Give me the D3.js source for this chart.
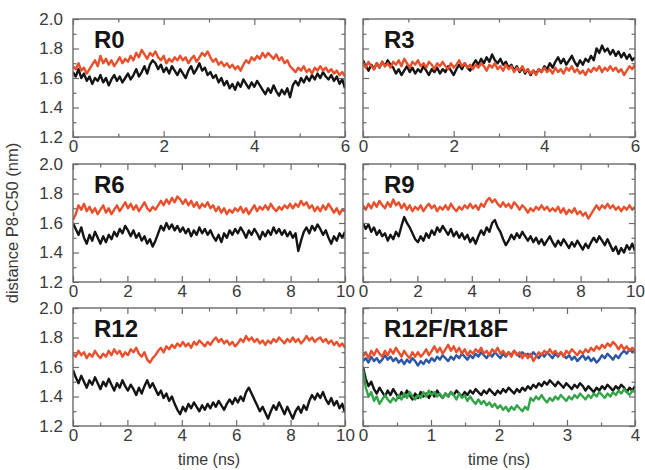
<!DOCTYPE html>
<html lang="en">
<head>
<meta charset="UTF-8">
<title>distance P8-C50</title>
<script src="https://d3js.org/d3.v7.min.js"></script>
<style>
  body { margin: 0; background: #fff; }
  text { font-family: "Liberation Sans", Arial, Helvetica, sans-serif; }
</style>
</head>
<body>
<script>

const r0Red = [1.68,1.66,1.70,1.65,1.67,1.63,1.66,1.69,1.72,1.68,
  1.75,1.70,1.73,1.69,1.72,1.68,1.71,1.74,1.70,1.73,
  1.71,1.75,1.72,1.77,1.74,1.79,1.76,1.73,1.77,1.75,
  1.78,1.74,1.72,1.75,1.70,1.73,1.71,1.74,1.72,1.75,
  1.72,1.74,1.70,1.73,1.75,1.71,1.74,1.77,1.75,1.78,
  1.74,1.71,1.73,1.69,1.71,1.68,1.70,1.67,1.69,1.66,
  1.68,1.65,1.69,1.72,1.70,1.74,1.72,1.75,1.73,1.77,
  1.74,1.77,1.75,1.73,1.76,1.72,1.74,1.70,1.72,1.68,
  1.66,1.64,1.67,1.65,1.68,1.64,1.66,1.63,1.67,1.65,
  1.68,1.65,1.67,1.64,1.66,1.63,1.65,1.62,1.64,1.61];
const r0Black = [1.64,1.61,1.66,1.60,1.63,1.58,1.61,1.56,1.60,1.58,
  1.62,1.57,1.60,1.55,1.59,1.62,1.58,1.61,1.57,1.60,
  1.63,1.59,1.62,1.66,1.61,1.64,1.68,1.63,1.69,1.72,
  1.70,1.66,1.69,1.64,1.67,1.63,1.68,1.65,1.62,1.66,
  1.63,1.60,1.65,1.68,1.63,1.66,1.70,1.65,1.67,1.62,
  1.64,1.60,1.62,1.57,1.60,1.55,1.58,1.53,1.56,1.52,
  1.57,1.54,1.59,1.56,1.53,1.57,1.54,1.58,1.55,1.52,
  1.49,1.53,1.50,1.55,1.51,1.48,1.52,1.49,1.53,1.47,
  1.55,1.58,1.55,1.60,1.57,1.61,1.58,1.62,1.59,1.63,
  1.60,1.64,1.61,1.59,1.62,1.58,1.61,1.56,1.59,1.53];

const r3Red = [1.70,1.67,1.71,1.68,1.66,1.70,1.67,1.71,1.68,1.70,
  1.67,1.71,1.69,1.72,1.68,1.73,1.70,1.67,1.71,1.69,
  1.72,1.68,1.70,1.67,1.71,1.69,1.66,1.70,1.68,1.71,
  1.68,1.66,1.70,1.67,1.69,1.72,1.68,1.70,1.67,1.69,
  1.66,1.69,1.67,1.70,1.68,1.65,1.69,1.67,1.70,1.66,
  1.68,1.65,1.69,1.66,1.68,1.64,1.67,1.65,1.68,1.64,
  1.66,1.63,1.65,1.62,1.66,1.64,1.67,1.64,1.66,1.63,
  1.67,1.64,1.66,1.63,1.67,1.65,1.68,1.64,1.66,1.63,
  1.65,1.62,1.66,1.64,1.67,1.65,1.68,1.64,1.67,1.65,
  1.68,1.65,1.67,1.64,1.66,1.62,1.65,1.68,1.66,1.69];
const r3Black = [1.72,1.68,1.65,1.69,1.66,1.70,1.67,1.71,1.68,1.72,
  1.69,1.67,1.63,1.66,1.62,1.65,1.68,1.64,1.67,1.63,
  1.66,1.64,1.68,1.65,1.62,1.66,1.64,1.67,1.63,1.66,
  1.64,1.68,1.65,1.62,1.66,1.69,1.66,1.70,1.67,1.65,
  1.69,1.72,1.69,1.73,1.70,1.74,1.71,1.76,1.72,1.70,
  1.73,1.69,1.71,1.67,1.69,1.65,1.68,1.64,1.67,1.63,
  1.66,1.62,1.65,1.63,1.66,1.64,1.68,1.66,1.70,1.67,
  1.71,1.74,1.70,1.73,1.69,1.72,1.75,1.71,1.68,1.72,
  1.69,1.73,1.71,1.75,1.72,1.80,1.77,1.82,1.78,1.80,
  1.76,1.79,1.75,1.78,1.74,1.77,1.73,1.76,1.72,1.74];

const r6Red = [1.62,1.66,1.72,1.69,1.73,1.68,1.71,1.67,1.70,1.66,
  1.69,1.72,1.67,1.70,1.66,1.69,1.72,1.68,1.71,1.74,
  1.70,1.73,1.69,1.72,1.68,1.71,1.74,1.70,1.68,1.71,
  1.69,1.72,1.75,1.72,1.76,1.73,1.77,1.74,1.78,1.76,
  1.73,1.76,1.72,1.75,1.71,1.74,1.70,1.73,1.71,1.74,
  1.70,1.72,1.68,1.71,1.67,1.70,1.66,1.69,1.67,1.70,
  1.68,1.71,1.67,1.70,1.66,1.69,1.72,1.68,1.71,1.69,
  1.72,1.69,1.73,1.70,1.68,1.71,1.69,1.72,1.70,1.73,
  1.70,1.73,1.71,1.75,1.72,1.74,1.70,1.72,1.68,1.71,
  1.68,1.72,1.69,1.73,1.70,1.67,1.70,1.66,1.69,1.68];
const r6Black = [1.60,1.56,1.52,1.57,1.50,1.46,1.52,1.48,1.54,1.50,
  1.46,1.51,1.47,1.52,1.49,1.54,1.51,1.56,1.53,1.58,
  1.55,1.51,1.55,1.50,1.53,1.48,1.51,1.46,1.49,1.44,
  1.48,1.53,1.58,1.55,1.60,1.56,1.59,1.55,1.58,1.54,
  1.57,1.53,1.56,1.51,1.55,1.52,1.57,1.53,1.56,1.52,
  1.55,1.51,1.48,1.52,1.47,1.53,1.50,1.55,1.52,1.56,
  1.53,1.57,1.54,1.50,1.55,1.52,1.56,1.53,1.49,1.54,
  1.51,1.55,1.52,1.57,1.53,1.56,1.52,1.55,1.51,1.54,
  1.50,1.53,1.41,1.48,1.54,1.57,1.53,1.58,1.55,1.59,
  1.56,1.52,1.55,1.50,1.46,1.51,1.48,1.53,1.50,1.54];

const r9Red = [1.72,1.69,1.73,1.70,1.74,1.71,1.75,1.72,1.70,1.74,
  1.71,1.76,1.72,1.74,1.70,1.73,1.69,1.72,1.68,1.71,
  1.69,1.72,1.68,1.71,1.73,1.70,1.72,1.68,1.71,1.69,
  1.72,1.69,1.73,1.70,1.68,1.71,1.69,1.72,1.70,1.73,
  1.70,1.72,1.69,1.73,1.71,1.75,1.77,1.74,1.76,1.73,
  1.71,1.74,1.71,1.73,1.70,1.74,1.72,1.69,1.72,1.70,
  1.67,1.70,1.68,1.71,1.69,1.72,1.69,1.71,1.68,1.70,
  1.68,1.71,1.67,1.70,1.66,1.69,1.67,1.70,1.66,1.68,
  1.65,1.67,1.63,1.66,1.69,1.72,1.69,1.72,1.70,1.73,
  1.70,1.72,1.69,1.71,1.68,1.71,1.69,1.72,1.69,1.71];
const r9Black = [1.60,1.56,1.59,1.54,1.57,1.52,1.55,1.51,1.53,1.48,
  1.52,1.49,1.54,1.51,1.58,1.64,1.60,1.57,1.53,1.49,
  1.47,1.51,1.48,1.53,1.50,1.55,1.52,1.57,1.54,1.58,
  1.55,1.52,1.56,1.51,1.54,1.50,1.53,1.49,1.52,1.47,
  1.50,1.46,1.51,1.55,1.52,1.57,1.54,1.60,1.62,1.57,
  1.54,1.49,1.45,1.48,1.52,1.49,1.53,1.50,1.54,1.51,
  1.48,1.51,1.47,1.50,1.46,1.49,1.45,1.48,1.51,1.47,
  1.44,1.48,1.45,1.49,1.46,1.43,1.47,1.44,1.48,1.45,
  1.42,1.46,1.43,1.47,1.50,1.47,1.51,1.48,1.45,1.49,
  1.45,1.41,1.44,1.39,1.43,1.40,1.45,1.42,1.46,1.41];

const r12Red = [1.69,1.67,1.71,1.68,1.70,1.66,1.69,1.67,1.71,1.68,
  1.66,1.69,1.67,1.71,1.68,1.72,1.69,1.71,1.67,1.70,
  1.68,1.72,1.70,1.73,1.69,1.67,1.70,1.65,1.63,1.66,
  1.68,1.71,1.73,1.70,1.74,1.72,1.75,1.73,1.76,1.74,
  1.77,1.74,1.76,1.73,1.77,1.75,1.78,1.76,1.74,1.77,
  1.75,1.78,1.80,1.77,1.79,1.76,1.78,1.75,1.77,1.74,
  1.76,1.79,1.77,1.81,1.78,1.80,1.77,1.79,1.76,1.78,
  1.75,1.78,1.76,1.79,1.77,1.80,1.78,1.76,1.79,1.77,
  1.80,1.77,1.79,1.76,1.78,1.81,1.78,1.80,1.77,1.79,
  1.80,1.77,1.79,1.76,1.78,1.75,1.77,1.74,1.76,1.73];
const r12Black = [1.58,1.53,1.49,1.54,1.50,1.46,1.51,1.48,1.53,1.49,
  1.45,1.50,1.47,1.52,1.48,1.44,1.49,1.46,1.51,1.47,
  1.44,1.48,1.45,1.41,1.46,1.42,1.47,1.51,1.46,1.49,
  1.45,1.41,1.44,1.39,1.42,1.37,1.40,1.35,1.31,1.28,
  1.33,1.30,1.35,1.32,1.36,1.33,1.30,1.34,1.31,1.35,
  1.32,1.36,1.33,1.37,1.34,1.31,1.35,1.38,1.35,1.39,
  1.36,1.40,1.37,1.43,1.46,1.42,1.38,1.34,1.30,1.33,
  1.29,1.25,1.30,1.34,1.31,1.36,1.32,1.28,1.33,1.29,
  1.25,1.30,1.33,1.29,1.34,1.31,1.37,1.41,1.38,1.42,
  1.39,1.43,1.38,1.35,1.39,1.34,1.37,1.32,1.35,1.29];

const ffRed = [1.67,1.70,1.66,1.71,1.68,1.72,1.69,1.67,1.71,1.68,
  1.72,1.69,1.73,1.70,1.67,1.71,1.68,1.66,1.70,1.67,
  1.70,1.67,1.69,1.72,1.68,1.71,1.74,1.70,1.73,1.69,
  1.72,1.75,1.71,1.74,1.70,1.73,1.69,1.72,1.68,1.71,
  1.69,1.72,1.70,1.73,1.69,1.71,1.68,1.72,1.70,1.73,
  1.69,1.71,1.68,1.70,1.67,1.71,1.68,1.70,1.66,1.69,
  1.66,1.69,1.64,1.67,1.70,1.68,1.71,1.69,1.72,1.69,
  1.71,1.68,1.70,1.67,1.71,1.69,1.72,1.70,1.68,1.71,
  1.69,1.72,1.70,1.73,1.71,1.74,1.72,1.75,1.73,1.76,
  1.74,1.77,1.75,1.72,1.75,1.72,1.74,1.71,1.73,1.71];
const ffBlue = [1.64,1.66,1.63,1.67,1.64,1.66,1.63,1.65,1.68,1.65,
  1.67,1.64,1.66,1.63,1.65,1.62,1.65,1.63,1.66,1.64,
  1.61,1.64,1.62,1.65,1.63,1.66,1.64,1.67,1.65,1.68,
  1.66,1.64,1.67,1.65,1.68,1.66,1.69,1.67,1.65,1.68,
  1.66,1.69,1.67,1.70,1.68,1.66,1.69,1.67,1.70,1.68,
  1.66,1.69,1.67,1.70,1.68,1.71,1.69,1.67,1.70,1.68,
  1.69,1.67,1.70,1.68,1.66,1.69,1.67,1.70,1.68,1.66,
  1.69,1.67,1.70,1.68,1.66,1.68,1.65,1.67,1.64,1.66,
  1.68,1.65,1.67,1.64,1.66,1.63,1.65,1.68,1.66,1.69,
  1.67,1.65,1.68,1.66,1.69,1.71,1.69,1.72,1.70,1.72];
const ffBlack = [1.60,1.52,1.47,1.50,1.45,1.42,1.46,1.43,1.40,1.44,
  1.41,1.45,1.42,1.39,1.43,1.40,1.44,1.41,1.38,1.42,
  1.39,1.43,1.40,1.42,1.39,1.43,1.40,1.44,1.41,1.39,
  1.42,1.40,1.43,1.41,1.44,1.42,1.40,1.43,1.41,1.44,
  1.42,1.45,1.43,1.41,1.44,1.42,1.45,1.43,1.41,1.44,
  1.42,1.45,1.43,1.46,1.44,1.42,1.45,1.43,1.46,1.44,
  1.47,1.45,1.48,1.46,1.49,1.47,1.50,1.48,1.51,1.49,
  1.47,1.50,1.48,1.46,1.49,1.47,1.45,1.48,1.46,1.49,
  1.47,1.44,1.47,1.45,1.43,1.46,1.44,1.47,1.45,1.48,
  1.46,1.44,1.47,1.45,1.48,1.46,1.43,1.46,1.44,1.47];
const ffGreen = [1.58,1.46,1.40,1.43,1.37,1.40,1.35,1.38,1.41,1.38,
  1.36,1.39,1.37,1.41,1.38,1.42,1.39,1.43,1.40,1.38,
  1.41,1.39,1.43,1.40,1.44,1.41,1.43,1.40,1.42,1.39,
  1.42,1.40,1.43,1.41,1.38,1.42,1.39,1.41,1.37,1.40,
  1.37,1.35,1.38,1.35,1.37,1.34,1.36,1.33,1.35,1.32,
  1.34,1.31,1.33,1.30,1.33,1.31,1.34,1.32,1.30,1.33,
  1.31,1.39,1.37,1.40,1.38,1.41,1.38,1.36,1.39,1.37,
  1.40,1.38,1.41,1.39,1.37,1.40,1.38,1.41,1.39,1.42,
  1.40,1.38,1.41,1.39,1.42,1.40,1.43,1.41,1.39,1.42,
  1.40,1.43,1.41,1.44,1.42,1.45,1.43,1.41,1.44,1.43];

const panelNames = ["R0", "R3", "R6", "R9", "R12", "R12F/R18F"];
const runLengths = [6, 6, 10, 10, 10, 4];   // ns
const yTicks = [1.2, 1.4, 1.6, 1.8, 2.0];

const colors = {black: "#141414", red: "#ea4f2c", blue: "#2c57a6", green: "#33a447"};

const panelSeries = [
  [[r0Black, "black"], [r0Red, "red"]],
  [[r3Black, "black"], [r3Red, "red"]],
  [[r6Black, "black"], [r6Red, "red"]],
  [[r9Black, "black"], [r9Red, "red"]],
  [[r12Black, "black"], [r12Red, "red"]],
  [[ffBlack, "black"], [ffGreen, "green"], [ffBlue, "blue"], [ffRed, "red"]]
];

const W = 645, H = 470;
const colX = [73, 363];
const rowY = [19, 164, 308];
const pw = 272, ph = 118;
const frameCol = "#6a6a6a";

const svg = d3.select("body").append("svg")
  .attr("width", W)
  .attr("height", H);

panelNames.forEach((name, i) => {
  const col = i % 2, row = Math.floor(i / 2);
  const tmax = runLengths[i];
  const g = svg.append("g").attr("transform", `translate(${colX[col]},${rowY[row]})`);

  const x = d3.scaleLinear().domain([0, tmax]).range([0, pw]);
  const y = d3.scaleLinear().domain([1.2, 2.0]).range([ph, 0]);

  const step = tmax == 4 ? 1 : 2;
  const major = d3.range(0, tmax + 0.001, step);
  const minor = d3.range(step / 2, tmax, step);
  const yMinor = [1.3, 1.5, 1.7, 1.9];

  g.append("clipPath").attr("id", "clip" + i)
    .append("rect").attr("width", pw).attr("height", ph);

  const line = d3.line()
    .x((d, k, arr) => x(k * tmax / (arr.length - 1)))
    .y(d => y(d));

  const lines = g.append("g").attr("clip-path", `url(#clip${i})`);
  panelSeries[i].forEach(([vals, c]) => {
    lines.append("path")
      .datum(vals)
      .attr("d", line)
      .attr("fill", "none")
      .attr("stroke", colors[c])
      .attr("stroke-width", 2.4)
      .attr("stroke-linejoin", "round");
  });

  // axes: ticks point inwards on all four sides
  const addAxis = (axis, tr) => {
    const a = g.append("g").attr("transform", tr).call(axis);
    a.select(".domain").remove();
    a.selectAll(".tick line").attr("stroke", frameCol).attr("stroke-width", 1.2);
    a.selectAll("text").attr("fill", "#3a3a3a").style("font-size", "17px");
    return a;
  };

  addAxis(d3.axisBottom(x).tickValues(major).tickSize(-6).tickPadding(3).tickFormat(d3.format("d")), `translate(0,${ph})`);
  addAxis(d3.axisBottom(x).tickValues(minor).tickSize(-3.5).tickFormat(""), `translate(0,${ph})`);
  addAxis(d3.axisTop(x).tickValues(major).tickSize(-6).tickFormat(""), "translate(0,0)");
  addAxis(d3.axisTop(x).tickValues(minor).tickSize(-3.5).tickFormat(""), "translate(0,0)");

  addAxis(d3.axisLeft(y).tickValues(yTicks).tickSize(-6).tickPadding(10)
    .tickFormat(col == 0 ? d3.format(".1f") : ""), "translate(0,0)");
  addAxis(d3.axisLeft(y).tickValues(yMinor).tickSize(-3.5).tickFormat(""), "translate(0,0)");
  addAxis(d3.axisRight(y).tickValues(yTicks).tickSize(-6).tickFormat(""), `translate(${pw},0)`);
  addAxis(d3.axisRight(y).tickValues(yMinor).tickSize(-3.5).tickFormat(""), `translate(${pw},0)`);

  g.append("rect")
    .attr("width", pw).attr("height", ph)
    .attr("fill", "none")
    .attr("stroke", frameCol)
    .attr("stroke-width", 1.4);

  g.append("text")
    .attr("x", 21).attr("y", 29)
    .attr("font-size", 24)
    .attr("font-weight", "bold")
    .attr("fill", "#151515")
    .text(name);

  if (row == 2) {
    svg.append("text")
      .attr("x", colX[col] + pw / 2)
      .attr("y", 465)
      .attr("text-anchor", "middle")
      .attr("font-size", 16)
      .attr("fill", "#3a3a3a")
      .text("time (ns)");
  }
});

svg.append("text")
  .attr("transform", `translate(18,${rowY[1] + ph / 2}) rotate(-90)`)
  .attr("text-anchor", "middle")
  .attr("font-size", 16.5)
  .attr("fill", "#3a3a3a")
  .text("distance P8-C50 (nm)");

</script>
</body>
</html>
